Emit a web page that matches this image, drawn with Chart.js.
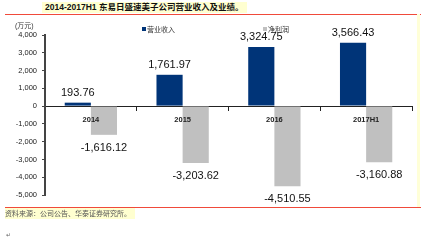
<!DOCTYPE html>
<html lang="zh">
<head>
<meta charset="UTF-8">
<title>东易日盛速美子公司营业收入及业绩</title>
<script src="https://cdn.jsdelivr.net/npm/chart.js"></script>
<style>
    body { margin: 0; background: #fff; font-family: "Liberation Sans", "Noto Sans CJK SC", sans-serif; }
    .wrap { position: relative; width: 423px; height: 240px; overflow: hidden; }
    .title {
        position: absolute; left: 42px; top: 2px; height: 11px; padding: 0 4px 0 3px;
        background: #ffffd0; font-size: 8.5px; font-weight: bold; line-height: 11px; color: #111;
        font-family: "Liberation Sans", "Noto Sans CJK SC", sans-serif; white-space: nowrap;
    }
    .redline { position: absolute; left: 5px; width: 416px; height: 1px; background: #f04a3a; }
    .vline { position: absolute; left: 417px; top: 14px; width: 3px; height: 194px; background: #ffffd8; }
    .unit { position: absolute; left: 15px; top: 20px; font-size: 7px; color: #333; }
    .legend { position: absolute; top: 24px; font-size: 7px; color: #333; white-space: nowrap; }
    .legend i { display: inline-block; width: 4px; height: 4px; margin-right: 1px; vertical-align: 1px; }
    .source {
        position: absolute; left: 5px; top: 208px; height: 11px; padding-right: 4px;
        background: #ffffd0; font-size: 7px; line-height: 11px; color: #555; white-space: nowrap;
    }
    .foot { position: absolute; left: 6px; top: 231px; font-size: 6px; color: #666; }
    canvas { position: absolute; left: 0; top: 0; }
</style>
</head>
<body>
<div class="wrap">
    <canvas id="chart" width="423" height="240"></canvas>
    <div class="title">2014-2017H1 东易日盛速美子公司营业收入及业绩。</div>
    <div class="redline" style="top:14px"></div>
    <div class="vline"></div>
    <div class="unit">(万元)</div>
    <div class="legend" style="left:142px"><i style="background:#003478"></i>营业收入</div>
    <div class="legend" style="left:263px"><i style="background:#c0c0c0"></i>净利润</div>
    <div class="redline" style="top:207px"></div>
    <div class="source">资料来源：公司公告、华泰证券研究所。</div>
    <div class="foot">↵</div>
</div>
<script>
const categories = ['2014', '2015', '2016', '2017H1'];
const revenue = [193.76, 1761.97, 3324.75, 3566.43];
const netProfit = [-1616.12, -3203.62, -4510.55, -3160.88];
const yTicks = [4000, 3000, 2000, 1000, 0, -1000, -2000, -3000, -4000, -5000];

function fmt(v) {
    return v.toLocaleString('en-US', { minimumFractionDigits: 2, maximumFractionDigits: 2 });
}

// value labels above / below each bar, and category names on top of the bars
const valueLabels = {
    id: 'valueLabels',
    afterDatasetsDraw(chart) {
        const ctx = chart.ctx;
        ctx.save();
        ctx.font = '11px "Liberation Sans", sans-serif';
        ctx.fillStyle = '#111';
        ctx.textAlign = 'center';
        ctx.textBaseline = 'middle';
        chart.data.datasets.forEach((ds, i) => {
            chart.getDatasetMeta(i).data.forEach((bar, j) => {
                const v = ds.data[j];
                const y = v >= 0 ? bar.y - 10 : bar.y + 13;
                ctx.fillText(fmt(v), bar.x, y);
            });
        });
        const xs = chart.scales.x, zero = chart.scales.y.getPixelForValue(0);
        ctx.font = 'bold 7.5px "Liberation Sans", sans-serif';
        ctx.fillStyle = '#222';
        categories.forEach((c, j) => {
            ctx.fillText(c, xs.getPixelForValue(j), zero + 14);
        });
        ctx.restore();
    }
};

new Chart(document.getElementById('chart'), {
    type: 'bar',
    data: {
        labels: categories,
        datasets: [
            { label: '营业收入', data: revenue, backgroundColor: '#003478' },
            { label: '净利润', data: netProfit, backgroundColor: '#c0c0c0' }
        ]
    },
    options: {
        responsive: false,
        animation: false,
        layout: { padding: { top: 35, bottom: 45, right: 11, left: 0 } },
        plugins: { legend: { display: false }, tooltip: { enabled: false } },
        datasets: { bar: { categoryPercentage: 0.57, barPercentage: 1 } },
        scales: {
            x: {
                position: { y: 0 },
                grid: { display: true, drawOnChartArea: false, offset: true, tickLength: 4, color: '#222' },
                border: { display: true, color: '#222', width: 1 },
                ticks: { display: false }
            },
            y: {
                min: -5000,
                max: 4000,
                afterFit(scale) { scale.width = 45; },
                afterBuildTicks(scale) { scale.ticks = yTicks.map(v => ({ value: v })); },
                grid: { display: true, drawOnChartArea: false, tickLength: 3, color: '#444' },
                border: { display: true, color: '#444', width: 2 },
                ticks: {
                    font: { size: 7.5 }, color: '#222', padding: 5,
                    callback: v => v.toLocaleString('en-US')
                }
            }
        }
    },
    plugins: [valueLabels]
});
</script>
</body>
</html>
